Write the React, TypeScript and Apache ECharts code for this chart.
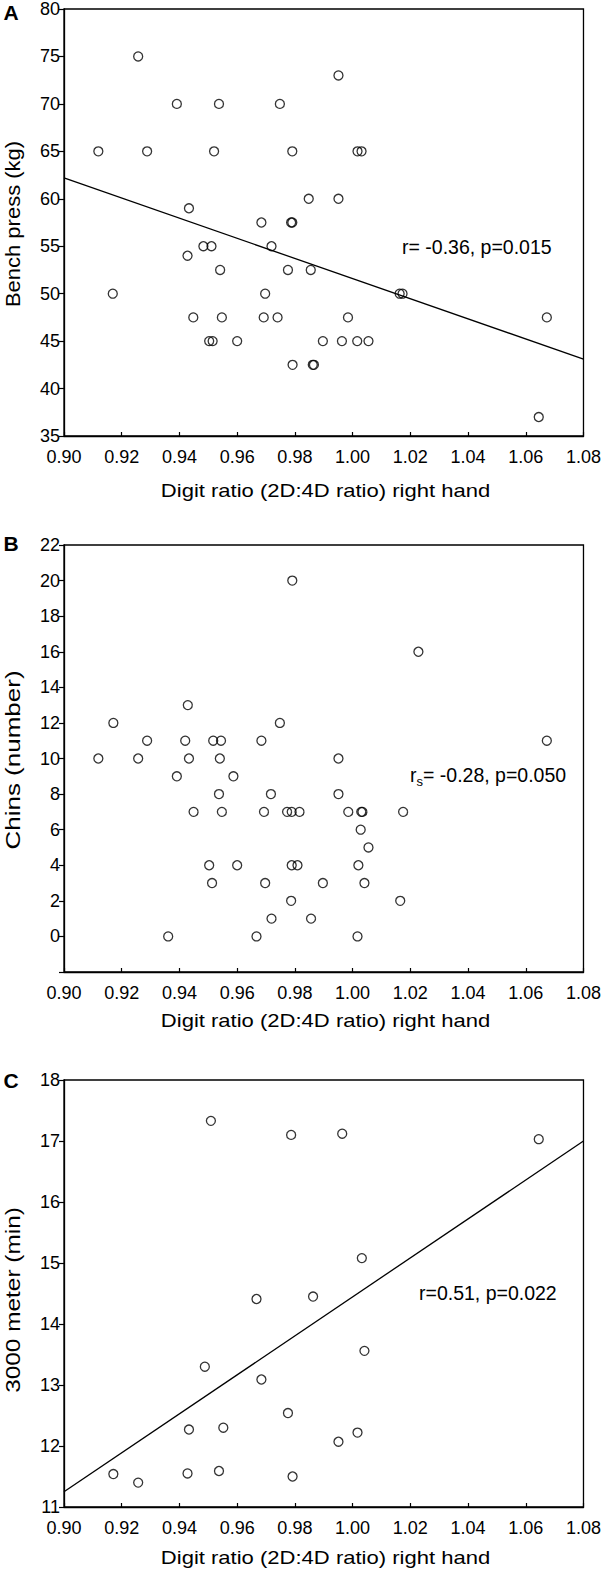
import React, { useEffect, useRef } from "react";
import * as echarts from "echarts";

// ---------- data ----------
const xTicks = { min: 0.9, max: 1.08, interval: 0.02 };
const xTitle = "Digit ratio (2D:4D ratio) right hand";

// Panel A: bench press (kg)
const benchPoints: [number, number][] = [
  [0.9257, 75], [0.9951, 73], [0.9391, 70], [0.9537, 70], [0.9748, 70],
  [0.9119, 65], [0.9288, 65], [0.952, 65], [0.9791, 65], [1.0017, 65], [1.0031, 65],
  [0.9848, 60], [0.9951, 60], [0.9433, 59], [0.9684, 57.5], [0.9787, 57.5], [0.9791, 57.5],
  [0.9483, 55], [0.9511, 55], [0.9719, 55], [0.9428, 54],
  [0.9541, 52.5], [0.9776, 52.5], [0.9855, 52.5],
  [0.9169, 50], [0.9697, 50], [1.0163, 50], [1.0173, 50],
  [0.9448, 47.5], [0.9547, 47.5], [0.9692, 47.5], [0.974, 47.5], [0.9984, 47.5], [1.0673, 47.5],
  [0.9503, 45], [0.9515, 45], [0.96, 45], [0.9897, 45], [0.9963, 45], [1.0016, 45], [1.0055, 45],
  [0.9792, 42.5], [0.9862, 42.5], [0.9866, 42.5], [1.0645, 37],
];
const benchFit: [number, number][] = [[0.9, 62.2], [1.08, 43.1]];
const benchStat = "r= -0.36, p=0.015";

// Panel B: chins (number)
const chinsPoints: [number, number][] = [
  [0.9791, 20], [1.0228, 16], [0.9429, 13], [0.9171, 12], [0.9748, 12],
  [0.9288, 11], [0.942, 11], [0.9517, 11], [0.9544, 11], [0.9684, 11], [1.0673, 11],
  [0.9119, 10], [0.9257, 10], [0.9433, 10], [0.954, 10], [0.9951, 10],
  [0.9391, 9], [0.9587, 9], [0.9537, 8], [0.9717, 8], [0.9951, 8],
  [0.9449, 7], [0.9547, 7], [0.9693, 7], [0.9773, 7], [0.9789, 7], [0.9816, 7],
  [0.9985, 7], [1.003, 7], [1.0034, 7], [1.0175, 7],
  [1.0028, 6], [1.0055, 5],
  [0.9503, 4], [0.96, 4], [0.9789, 4], [0.9809, 4], [1.002, 4],
  [0.9513, 3], [0.9697, 3], [0.9897, 3], [1.0041, 3],
  [0.9787, 2], [1.0165, 2], [0.9719, 1], [0.9856, 1],
  [0.9361, 0], [0.9667, 0], [1.0017, 0],
];
const chinsStatRest = "= -0.28, p=0.050";

// Panel C: 3000 meter (min)
const runPoints: [number, number][] = [
  [0.9509, 17.33], [0.9787, 17.1], [0.9964, 17.12], [1.0645, 17.03],
  [1.0032, 15.08], [0.9667, 14.41], [0.9863, 14.45], [0.9488, 13.3],
  [0.9684, 13.09], [1.0041, 13.56], [0.9776, 12.54], [0.9433, 12.27],
  [0.9552, 12.3], [0.9951, 12.07], [1.0017, 12.22], [0.9171, 11.54],
  [0.9257, 11.4], [0.9428, 11.55], [0.9537, 11.59], [0.9792, 11.5],
];
const runFit: [number, number][] = [[0.9, 11.25], [1.08, 17.0]];
const runStat = "r=0.51, p=0.022";

const yAxesSpec = [
  { title: "Bench press (kg)", min: 35, max: 80, interval: 5 },
  { title: "Chins (number)", min: -2, max: 22, interval: 2 },
  { title: "3000 meter (min)", min: 11, max: 18, interval: 1 },
];

// ---------- layout ----------
const FONT = "'Liberation Sans', Arial, Helvetica, sans-serif";
const GRID_LEFT = 64;
const GRID_W = 523;
const GRID_TOPS = [9, 545, 1080];
const GRID_H = 427;

export default function App() {
  const ref = useRef<HTMLDivElement>(null);
  useEffect(() => {
    document.body.style.margin = "0";
    if (!ref.current) return;
    const chart = echarts.init(ref.current, undefined, { renderer: "svg" });
    const lineCol = "#000";

    const grids = GRID_TOPS.map((t) => ({
      left: GRID_LEFT, top: t, width: GRID_W, height: GRID_H,
      show: true, borderColor: lineCol, borderWidth: 1.3, backgroundColor: "transparent",
    }));

    const xAxes = GRID_TOPS.map((_, i) => ({
      type: "value", gridIndex: i,
      min: xTicks.min, max: xTicks.max, interval: xTicks.interval,
      axisLine: { show: true, onZero: false, lineStyle: { color: lineCol, width: 1.3 } },
      axisTick: { show: true, inside: true, length: 4, lineStyle: { color: lineCol, width: 1.2 } },
      splitLine: { show: false },
      axisLabel: {
        color: "#000", fontSize: 18, fontFamily: FONT, margin: 12,
        formatter: (v: number) => v.toFixed(2),
      },
    }));

    const yAxes = yAxesSpec.map((s, i) => ({
      type: "value", gridIndex: i, min: s.min, max: s.max, interval: s.interval,
      axisLine: { show: true, onZero: false, lineStyle: { color: lineCol, width: 1.3 } },
      axisTick: { show: true, inside: false, length: 5, lineStyle: { color: lineCol, width: 1.2 } },
      splitLine: { show: false },
      axisLabel: {
        color: "#000", fontSize: 18, fontFamily: FONT, margin: 4,
        formatter: (v: number) => (v < 0 ? "" : String(Math.round(v * 100) / 100)),
      },
    }));

    const scatterStyle = {
      symbol: "circle", symbolSize: 9,
      itemStyle: { color: "rgba(255,255,255,0)", borderColor: "#000", borderWidth: 1.3 },
      silent: true,
    };
    const fitStyle = {
      type: "line", showSymbol: false, symbol: "none", silent: true,
      lineStyle: { color: "#000", width: 1.3 },
    };

    const series: any[] = [
      { type: "scatter", xAxisIndex: 0, yAxisIndex: 0, data: benchPoints, ...scatterStyle },
      { ...fitStyle, xAxisIndex: 0, yAxisIndex: 0, data: benchFit },
      { type: "scatter", xAxisIndex: 1, yAxisIndex: 1, data: chinsPoints, ...scatterStyle },
      { type: "scatter", xAxisIndex: 2, yAxisIndex: 2, data: runPoints, ...scatterStyle },
      { ...fitStyle, xAxisIndex: 2, yAxisIndex: 2, data: runFit },
    ];

    const txt = (text: string, x: number, y: number, size: number, extra: any = {}) => ({
      type: "text", x, y, silent: true,
      scaleX: extra.scaleX ?? 1, rotation: extra.rotation ?? 0,
      style: {
        text, fontSize: size, fontFamily: FONT, fill: "#000",
        fontWeight: extra.bold ? "bold" : "normal",
        align: extra.align ?? "center", verticalAlign: "middle",
      },
    });

    const xTitleY = [490, 1020, 1557];
    const yTitleY = [224, 760, 1300];
    const yTitleScale = [1.1, 1.3, 1.22];
    const letters = ["A", "B", "C"];
    const letterY = [12, 543, 1080];

    const graphic: any[] = [];
    for (let i = 0; i < 3; i++) {
      graphic.push(txt(xTitle, GRID_LEFT + GRID_W / 2, xTitleY[i], 19, { scaleX: 1.16 }));
      graphic.push(txt(yAxesSpec[i].title, 13, yTitleY[i], 20, { rotation: Math.PI / 2, scaleX: yTitleScale[i] }));
      graphic.push(txt(letters[i], 11, letterY[i], 21, { bold: true }));
    }
    graphic.push(txt(benchStat, 402, 247, 19.5, { align: "left" }));
    graphic.push(txt("r", 410, 775, 19.5, { align: "left" }));
    graphic.push(txt("s", 416.5, 781, 13, { align: "left" }));
    graphic.push(txt(chinsStatRest, 423, 775, 19.5, { align: "left" }));
    graphic.push(txt(runStat, 419, 1293, 19.5, { align: "left" }));

    chart.setOption({
      animation: false,
      backgroundColor: "#fff",
      grid: grids,
      xAxis: xAxes,
      yAxis: yAxes,
      series,
      graphic,
    });
    return () => chart.dispose();
  }, []);
  return <div ref={ref} style={{ width: 604, height: 1576 }} />;
}
